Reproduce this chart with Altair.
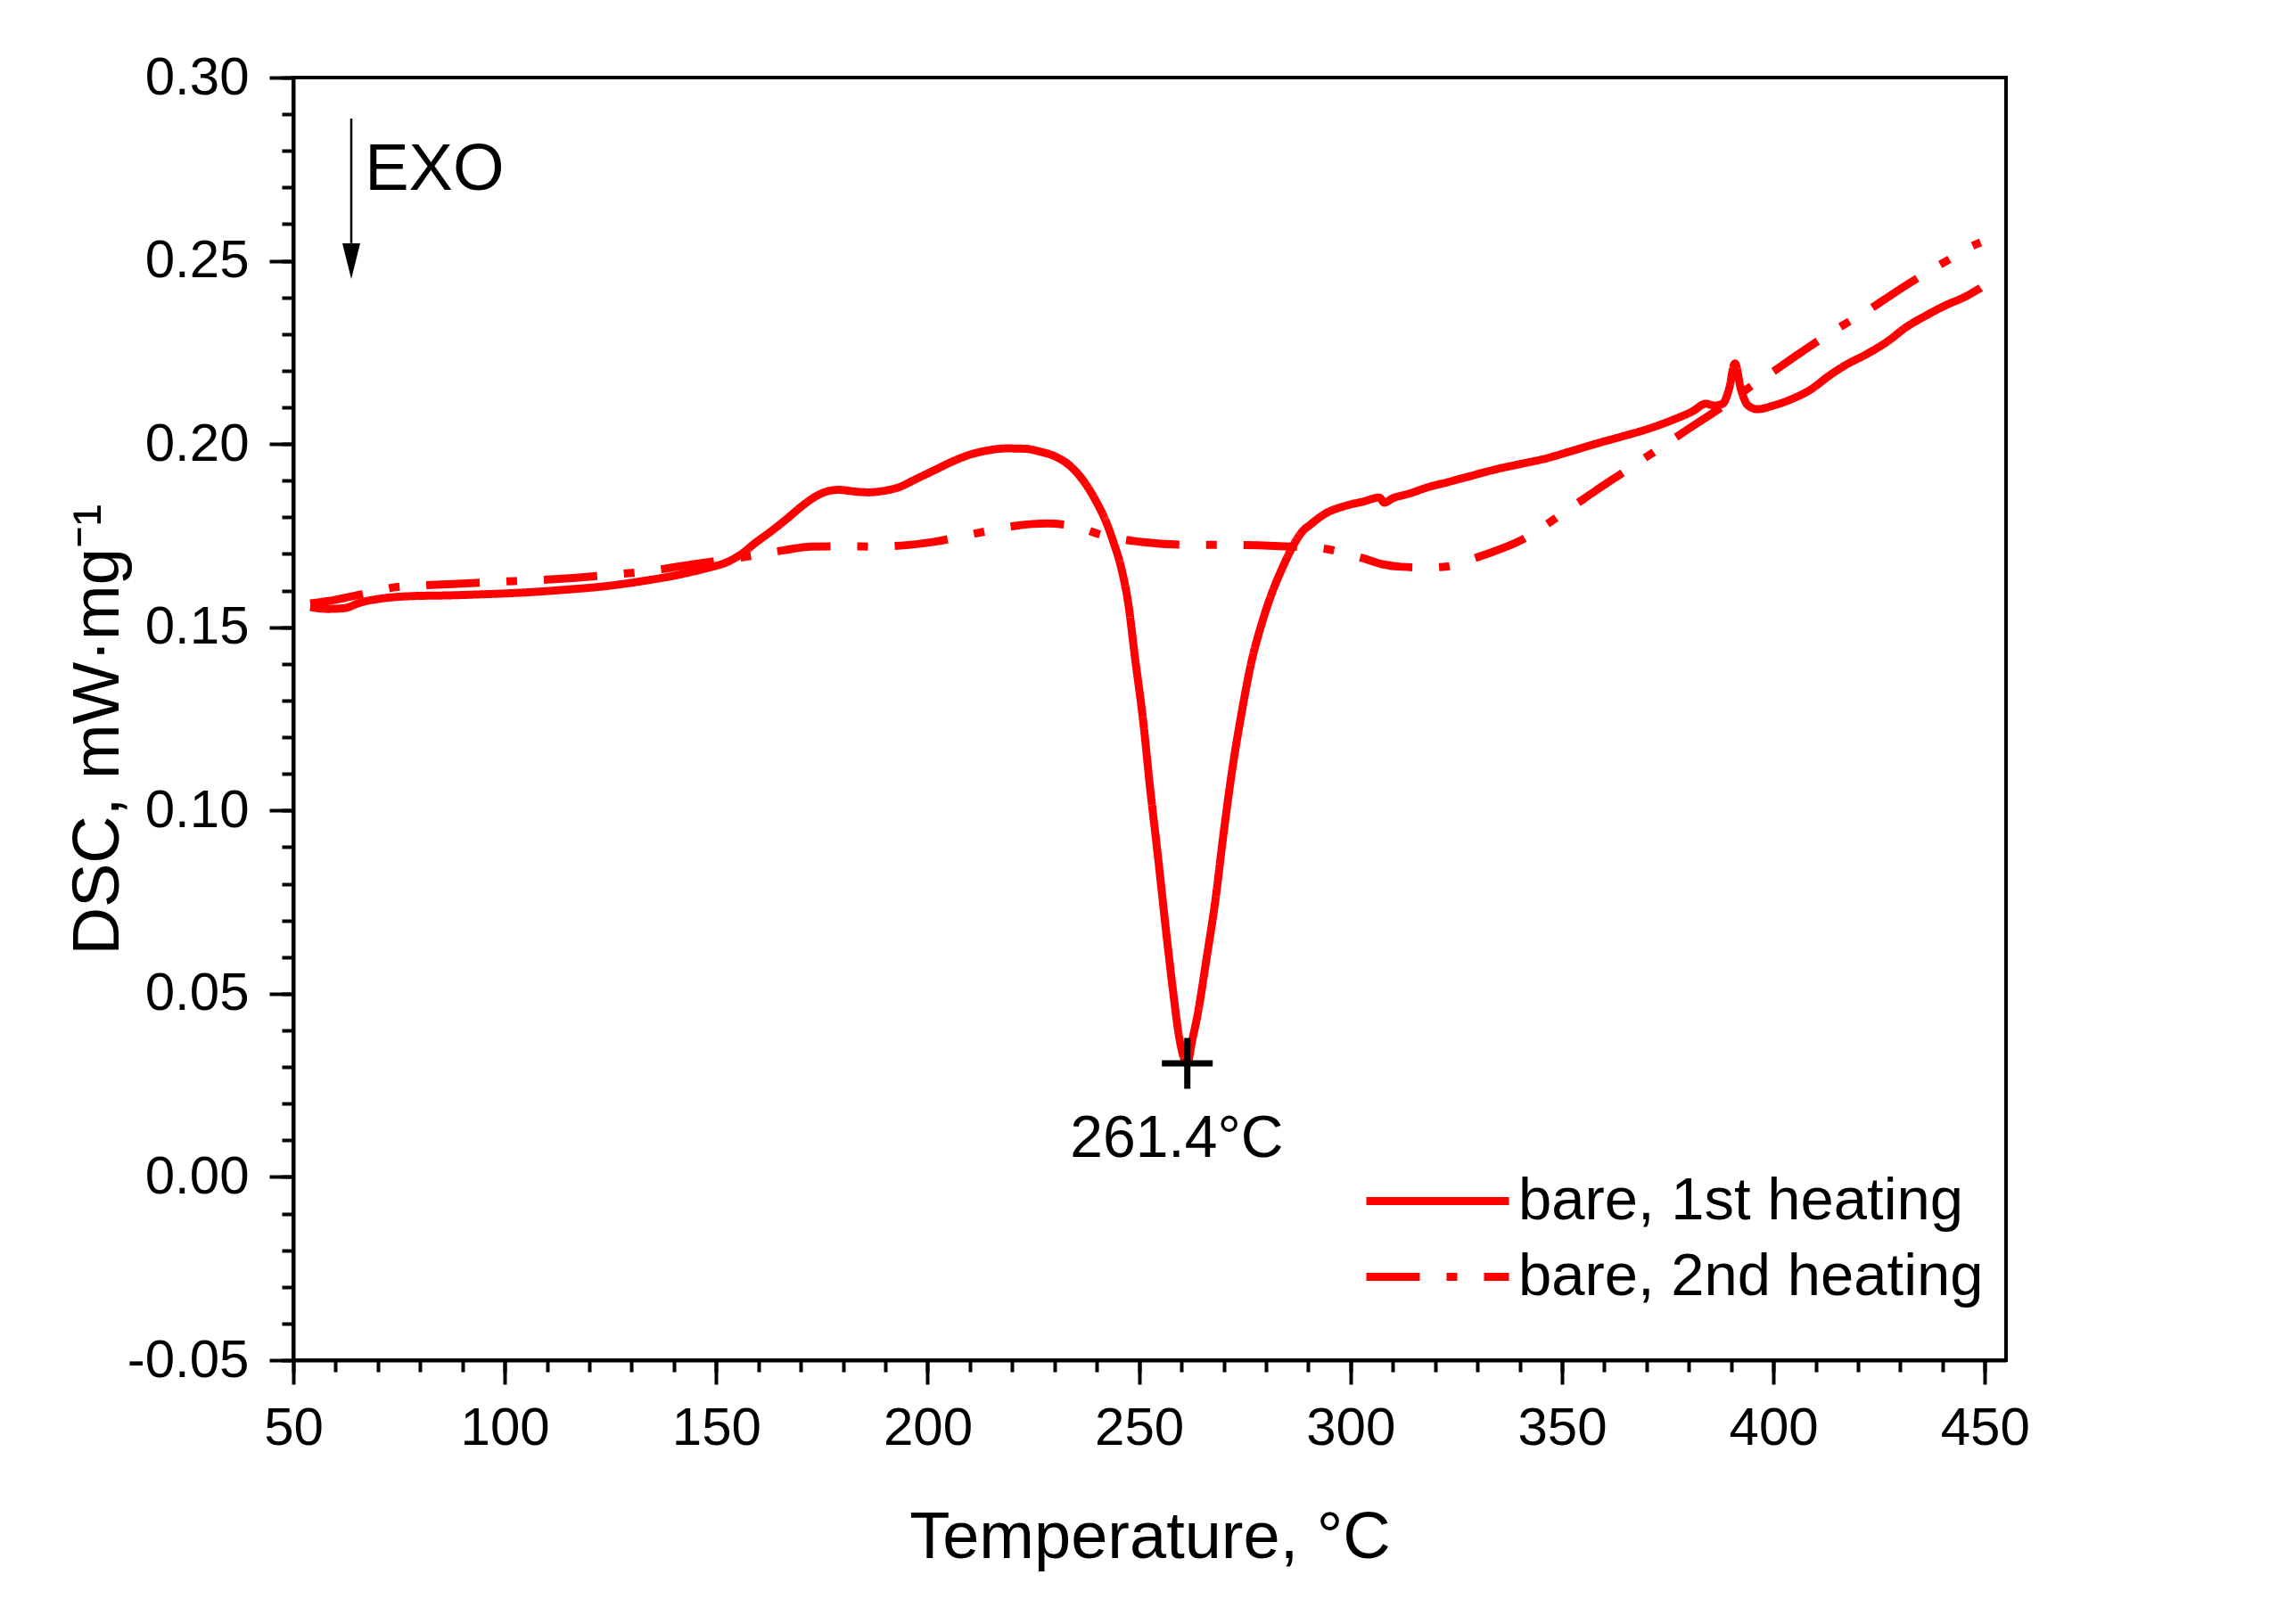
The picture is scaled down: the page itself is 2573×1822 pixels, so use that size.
import altair as alt
import pandas as pd

# ---- data ----
series_names = ["bare, 1st heating", "bare, 2nd heating"]

t1 = [54, 58, 62, 66, 70, 78, 87, 95, 105, 115, 123, 132, 141, 148, 152, 156, 159, 163,
      166.5, 170, 173.5, 176, 179, 183, 186, 190, 193, 197, 201.5, 206, 210, 214, 218.5,
      223, 227, 230, 234, 237, 240, 242, 244, 245.6, 247.5, 249, 251, 252.6, 254.5,
      256.2, 258, 259.5, 261.4, 262.5, 263.8, 266, 268, 270, 272.2, 274.3, 276.4, 279,
      281.5, 284, 286.3, 288.5, 290.6, 294, 299, 303, 306.8, 308, 310, 314, 318, 323,
      328.5, 334, 340, 346, 352, 357.8, 364, 370, 376, 381, 384, 386, 388, 389.5, 390.9,
      392.3, 394, 396.2, 400, 404.6, 409, 413, 417, 422, 427, 431.4, 436, 441, 445, 449]
d1 = [0.1555, 0.1550, 0.1552, 0.1568, 0.1577, 0.1585, 0.1587, 0.1590, 0.1595, 0.1603,
      0.1611, 0.1625, 0.1643, 0.1662, 0.1675, 0.1700, 0.1728, 0.1762, 0.1794, 0.1828,
      0.1857, 0.1870, 0.1875, 0.1870, 0.1868, 0.1873, 0.1881, 0.1903, 0.1928, 0.1953,
      0.1971, 0.1982, 0.1988, 0.1987, 0.1978, 0.1967, 0.1937, 0.1897, 0.1840, 0.1793,
      0.1730, 0.1670, 0.1560, 0.1420, 0.1240, 0.1061, 0.0870, 0.0689, 0.0510, 0.0380,
      0.0310, 0.0370, 0.0441, 0.0600, 0.0752, 0.0940, 0.1125, 0.1270, 0.1397, 0.1510,
      0.1596, 0.1665, 0.1720, 0.1760, 0.1781, 0.1810, 0.1832, 0.1843, 0.1854, 0.1840,
      0.1852, 0.1865, 0.1881, 0.1896, 0.1913, 0.1930, 0.1945, 0.1960, 0.1980, 0.2000,
      0.2020, 0.2040, 0.2065, 0.2090, 0.2110, 0.2105, 0.2110, 0.2150, 0.2220, 0.2150,
      0.2105, 0.2095, 0.2105, 0.2124, 0.2150, 0.2185, 0.2215, 0.2245, 0.2280, 0.2319,
      0.2350, 0.2380, 0.2400, 0.2426]

t2 = [54, 60, 65, 70, 74.5, 80, 87.7, 95, 102.3, 110, 116.8, 124, 131.4, 138, 144.7, 152,
      159, 166, 172.5, 180, 187.3, 195, 201.5, 208, 214.8, 221, 228.2, 234.3, 241.4, 250.5,
      262.5, 271.6, 279.4, 286.3, 290.6, 295, 299, 303, 307.5, 312, 318.6, 323, 327, 333,
      339.9, 346, 352, 358, 364.4, 370, 375.5, 380, 384.5, 390, 395, 399, 405, 411.3, 417,
      422.4, 428, 434.7, 441, 447.5, 449]
d2 = [0.1565, 0.1575, 0.1587, 0.1600, 0.1610, 0.1614, 0.1618, 0.1622, 0.1626, 0.1630,
      0.1635, 0.1642, 0.1650, 0.1660, 0.1672, 0.1684, 0.1696, 0.1710, 0.1720, 0.1721,
      0.1720, 0.1724, 0.1733, 0.1748, 0.1764, 0.1777, 0.1783, 0.1777, 0.1751, 0.1733,
      0.1725, 0.1725, 0.1723, 0.1720, 0.1718, 0.1712, 0.1701, 0.1688, 0.1672, 0.1665,
      0.1663, 0.1666, 0.1680, 0.1703, 0.1735, 0.1778, 0.1825, 0.1873, 0.1922, 0.1965,
      0.2007, 0.2042, 0.2076, 0.2118, 0.2160, 0.2190, 0.2238, 0.2287, 0.2328, 0.2365,
      0.2408, 0.2457, 0.2500, 0.2543, 0.2550]

x_major = [50, 100, 150, 200, 250, 300, 350, 400, 450]
x_minor = list(range(50, 451, 10))
y_major = [-0.05, 0.0, 0.05, 0.10, 0.15, 0.20, 0.25, 0.30]
y_minor = [round(-0.05 + 0.01 * i, 2) for i in range(36)]

# annotations
peak_t = [261.4]
peak_dsc = [0.031]
peak_label_t = [258.9]
peak_label_dsc = [0.0054]
peak_label = ["261.4°C"]

exo_t = [63.7]
exo_top = [0.2888]
exo_base = [0.2548]
exo_head = [0.2499]
exo_text_t = [66.9]
exo_text_dsc = [0.2693]
exo_text = ["EXO"]

FONT = "Liberation Sans"
RED = "#ff0000"

df = pd.DataFrame({
    "T": t1 + t2,
    "DSC": d1 + d2,
    "series": [series_names[0]] * len(t1) + [series_names[1]] * len(t2),
    "order": list(range(len(t1))) + list(range(len(t2))),
})

xscale = alt.Scale(domain=[50, 455], nice=False, zero=False)
yscale = alt.Scale(domain=[-0.05, 0.30], nice=False, zero=False)

x_axis_major = alt.Axis(values=x_major, format="d", title="Temperature, °C",
                        tickSize=27, labelPadding=20, orient="bottom", labelFlush=False,
                        titleY=221, titleBaseline="alphabetic")
y_axis_major = alt.Axis(values=y_major, title="DSC, mW·mg⁻¹", orient="left",
                        labelExpr="replace(format(datum.value, '.2f'), '\u2212', '-')",
                        tickSize=27, labelPadding=23, labelFlush=False,
                        titleX=-197, titleY=731, titleAngle=270,
                        titleBaseline="alphabetic", titleAlign="center")
x_axis_minor = alt.Axis(values=x_minor, labels=False, title="", tickSize=13,
                        domain=False, orient="bottom")
y_axis_minor = alt.Axis(values=y_minor, labels=False, title="", tickSize=13,
                        domain=False, orient="left")

lines = alt.Chart(df).mark_line(
    color=RED, strokeWidth=9, strokeCap="butt", strokeJoin="round", interpolate="monotone"
).encode(
    x=alt.X("T:Q", scale=xscale, axis=x_axis_major),
    y=alt.Y("DSC:Q", scale=yscale, axis=y_axis_major),
    strokeDash=alt.StrokeDash(
        "series:N",
        scale=alt.Scale(domain=series_names, range=[[1, 0], [60, 30, 12, 30]]),
        legend=alt.Legend(
            orient="none", legendX=1199, legendY=1218, title=None,
            symbolType="stroke", symbolSize=25600, symbolStrokeWidth=9,
            symbolStrokeColor=RED, labelFontSize=67, labelFont=FONT,
            labelColor="black", labelOffset=6, labelLimit=1000,
            clipHeight=85, rowPadding=0, padding=0,
        ),
    ),
    order="order:Q",
)

minor = alt.Chart(df).mark_point(opacity=0).encode(
    x=alt.X("T:Q", scale=xscale, axis=x_axis_minor),
    y=alt.Y("DSC:Q", scale=yscale, axis=y_axis_minor),
)

peak_df = pd.DataFrame({"T": peak_t, "DSC": peak_dsc})
cross = alt.Chart(peak_df).mark_point(
    shape="M-1,0L1,0M0,-1L0,1", size=3249, stroke="black", strokeWidth=7,
    filled=False, opacity=1,
).encode(
    x=alt.X("T:Q", scale=xscale, axis=None),
    y=alt.Y("DSC:Q", scale=yscale, axis=None),
)

lab_df = pd.DataFrame({"T": peak_label_t, "DSC": peak_label_dsc, "label": peak_label})
peak_text = alt.Chart(lab_df).mark_text(
    align="center", baseline="alphabetic", fontSize=66, font=FONT, color="black"
).encode(
    x=alt.X("T:Q", scale=xscale, axis=None),
    y=alt.Y("DSC:Q", scale=yscale, axis=None),
    text="label:N",
)

exo_df = pd.DataFrame({"T": exo_t, "top": exo_top, "base": exo_base, "head": exo_head})
exo_rule = alt.Chart(exo_df).mark_rule(color="black", strokeWidth=2.5).encode(
    x=alt.X("T:Q", scale=xscale, axis=None),
    y=alt.Y("top:Q", scale=yscale, axis=None),
    y2="base:Q",
)
exo_arrow = alt.Chart(exo_df).mark_point(
    shape="M-0.5,-1L0.5,-1L0,1Z", size=1600, filled=True, color="black", opacity=1
).encode(
    x=alt.X("T:Q", scale=xscale, axis=None),
    y=alt.Y("head:Q", scale=yscale, axis=None),
)
exo_tdf = pd.DataFrame({"T": exo_text_t, "DSC": exo_text_dsc, "label": exo_text})
exo_label = alt.Chart(exo_tdf).mark_text(
    align="left", baseline="alphabetic", fontSize=74, font=FONT, color="black"
).encode(
    x=alt.X("T:Q", scale=xscale, axis=None),
    y=alt.Y("DSC:Q", scale=yscale, axis=None),
    text="label:N",
)

chart = alt.layer(
    lines, minor, cross, peak_text, exo_rule, exo_arrow, exo_label
).resolve_axis(
    x="independent", y="independent"
).properties(
    width=1921, height=1439,
    padding={"left": 321, "top": 79, "right": 290, "bottom": 280},
    autosize=alt.AutoSizeParams(type="none"),
    background="white",
).configure_axis(
    labelFont=FONT, titleFont=FONT, labelFontSize=60, titleFontSize=74,
    titleFontWeight="normal", labelColor="black", titleColor="black",
    domainColor="black", tickColor="black", domainWidth=4, tickWidth=4, grid=False,
).configure_view(
    stroke="black", strokeWidth=4,
)

chart.save("out.html", embed_options={"renderer": "svg", "actions": False})
